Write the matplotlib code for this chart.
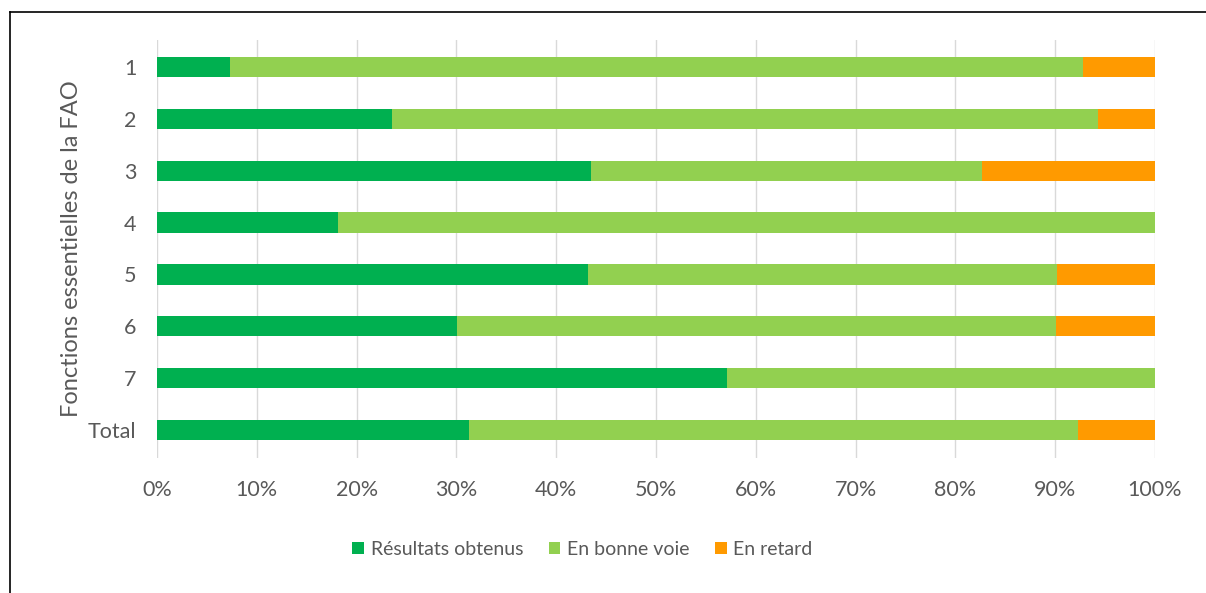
import numpy as np
import matplotlib
matplotlib.use('Agg')
import matplotlib.pyplot as plt
from matplotlib.lines import Line2D

plt.rcParams['font.family'] = ['Lato', 'DejaVu Sans']

categories = ['1', '2', '3', '4', '5', '6', '7', 'Total']
obtenus = [7.3, 23.5, 43.5, 18.1, 43.2, 30.1, 57.1, 31.3]
bonne_voie = [85.5, 70.8, 39.2, 81.9, 47.0, 60.0, 42.9, 61.0]
retard = [7.2, 5.7, 17.3, 0.0, 9.8, 9.9, 0.0, 7.7]

series = [('Résultats obtenus', obtenus, '#00B050'),
          ('En bonne voie', bonne_voie, '#92D050'),
          ('En retard', retard, '#FF9A00')]

grey = '#595959'

fig = plt.figure(figsize=(12.06, 5.93), dpi=100)
ax = fig.add_axes([0.1302, 0.2277, 0.8275, 0.7048])

y = np.arange(len(categories))
left = np.zeros(len(categories))
for name, vals, col in series:
    vals = np.array(vals)
    ax.barh(y, vals, left=left, height=0.39, color=col, label=name, zorder=3)
    left += vals

ax.set_xlim(0, 100)
ax.set_ylim(len(categories) - 0.46, -0.52)
ax.set_xticks(np.arange(0, 101, 10))
ax.set_xticklabels([f'{v}%' for v in range(0, 101, 10)])
ax.set_yticks(y)
ax.set_yticklabels(categories)
ax.tick_params(length=0, labelsize=15.5, colors=grey)
ax.tick_params(axis='x', pad=16)
ax.tick_params(axis='y', pad=15)
ax.grid(axis='x', color='#D9D9D9', linewidth=1, zorder=0)
for s in ax.spines.values():
    s.set_visible(False)

ax.set_ylabel('Fonctions essentielles de la FAO', fontsize=17, color=grey, labelpad=4)

leg = fig.legend(loc='center', bbox_to_anchor=(0.483, 0.074), ncol=3, frameon=False,
                 fontsize=14, handlelength=0.6, handleheight=0.6, handletextpad=0.35,
                 columnspacing=1.3)
for t in leg.get_texts():
    t.set_color(grey)

# frame lines (top and left only)
fig.add_artist(Line2D([0.0083, 1.0], [0.9798, 0.9798], color='black', linewidth=1.2))
fig.add_artist(Line2D([0.0083, 0.0083], [0.0, 0.9798], color='black', linewidth=1.2))

fig.savefig('out.png', dpi=100)
